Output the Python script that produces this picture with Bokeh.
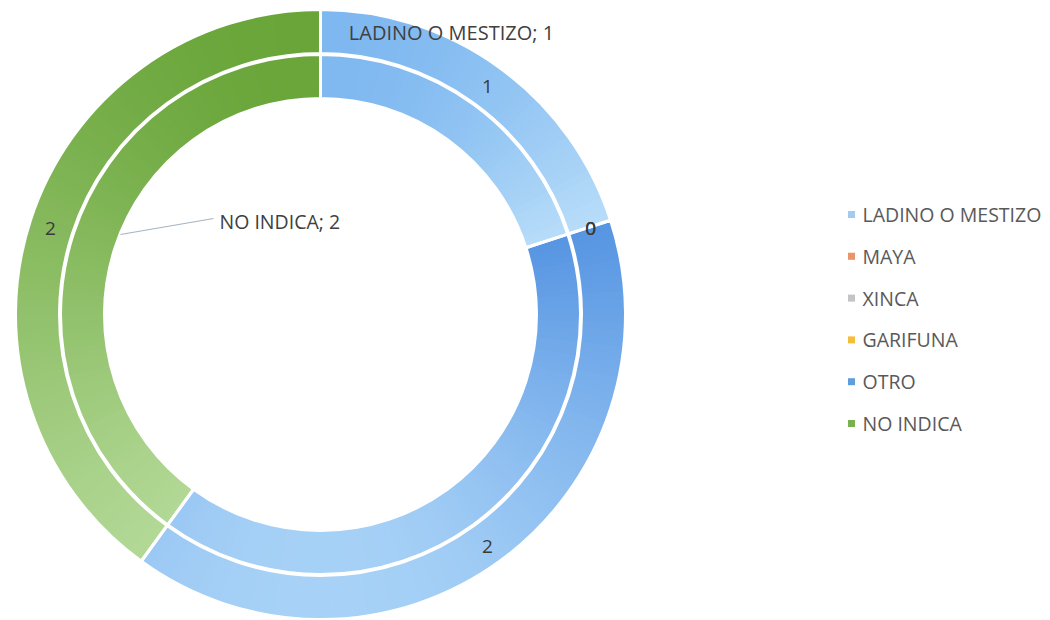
import math
from bokeh.plotting import figure
from bokeh.models import Range1d
from bokeh.embed import file_html
from bokeh.resources import INLINE
from bokeh.core.properties import value

# ---- data ----
categories = ["LADINO O MESTIZO", "MAYA", "XINCA", "GARIFUNA", "OTRO", "NO INDICA"]
inner_values = [1, 0, 0, 0, 2, 2]
outer_values = [1, 0, 0, 0, 2, 2]
legend_colors = ["#a3cbef", "#e8956a", "#c4c4c4", "#f4bd3c", "#5f9ddc", "#78b150"]
grad_top = ["#78b4ef", "#ed7d31", "#a5a5a5", "#ffc000", "#5594e2", "#66a335"]
grad_bot = ["#badef9", "#ed7d31", "#a5a5a5", "#ffc000", "#acd5f8", "#b5da99"]

# ---- geometry (reference pixel space, y flipped) ----
W, H = 1050, 620
def Y(py):
    return H - py

CX, CY = 320, Y(314)
R_HOLE, R_IN_OUT = 216, 260
R_OUT_IN, R_OUT = 261, 305
FONT = value("Open Sans")

p = figure(width=W, height=H, x_range=Range1d(0, W), y_range=Range1d(0, H),
           output_backend="svg", toolbar_location=None, min_border=0)
p.axis.visible = False
p.grid.visible = False
p.outline_line_color = None
p.background_fill_color = "white"


def hex2rgb(h):
    h = h.lstrip("#")
    return tuple(int(h[i:i + 2], 16) for i in (0, 2, 4))


def mix(c1, c2, t):
    a, b = hex2rgb(c1), hex2rgb(c2)
    return "#%02x%02x%02x" % tuple(int(round(a[i] + (b[i] - a[i]) * t)) for i in range(3))


def draw_ring(values, r0, r1):
    total = float(sum(values))
    start = math.pi / 2
    spans = []
    for i, v in enumerate(values):
        span = 2 * math.pi * v / total
        spans.append((start, start - span))
        if v > 0:
            # gradient approximation: vertical top->bottom inside the slice
            samples = [start - span * k / 60 for k in range(61)]
            ys = [r * math.sin(a) for a in samples for r in (r0, r1)]
            ymax, ymin = max(ys), min(ys)
            n = max(4, int(math.degrees(span) / 1.5))
            sa, ea, cols = [], [], []
            for k in range(n):
                a0 = start - span * k / n
                a1 = start - span * (k + 1) / n - 0.004
                am = (a0 + a1) / 2
                ym = (r0 + r1) / 2 * math.sin(am)
                t = (ymax - ym) / (ymax - ymin) if ymax > ymin else 0
                cols.append(mix(grad_top[i], grad_bot[i], t))
                sa.append(a0); ea.append(a1)
            p.annular_wedge(x=[CX] * n, y=[CY] * n, inner_radius=r0, outer_radius=r1,
                            start_angle=sa, end_angle=ea, direction="clock",
                            fill_color=cols, line_color=None)
        start -= span
    # white separators
    s = [a for a, b in spans if a != b]
    e = [b for a, b in spans if a != b]
    p.annular_wedge(x=[CX] * len(s), y=[CY] * len(s), inner_radius=r0, outer_radius=r1,
                    start_angle=s, end_angle=e, direction="clock",
                    fill_alpha=0, line_color="white", line_width=3)
    return spans


inner_spans = draw_ring(inner_values, R_HOLE, R_IN_OUT)
outer_spans = draw_ring(outer_values, R_OUT_IN, R_OUT)

# outer ring value labels at mid-angle of each slice
lab_r = 284
lx, ly, lt = [], [], []
for (a0, a1), v in zip(outer_spans, outer_values):
    am = (a0 + a1) / 2
    lx.append(CX + lab_r * math.cos(am))
    ly.append(CY + lab_r * math.sin(am) - 2)
    lt.append(str(v))
p.text(x=lx, y=ly, text=lt, text_align="center", text_baseline="middle",
       text_font=FONT, text_font_size="19px", text_color="#3a3a3a")

# inner ring labels (category; value), placed as in the reference
ladino_idx = 0
noind_idx = 5
p.text(x=[451], y=[Y(32)], text=["%s; %d" % (categories[ladino_idx], inner_values[ladino_idx])],
       text_align="center", text_baseline="middle",
       text_font=FONT, text_font_size="20px", text_color="#404040")
p.text(x=[219], y=[Y(221)], text=["%s; %d" % (categories[noind_idx], inner_values[noind_idx])],
       text_align="left", text_baseline="middle",
       text_font=FONT, text_font_size="19.5px", text_color="#404040")
p.line(x=[120, 213], y=[Y(234), Y(218)], line_color="#a6b4c0", line_width=1.2)

# legend
leg_y = [Y(214 + 41.8 * i) for i in range(len(categories))]
p.scatter(x=[851] * len(categories), y=leg_y, marker="square", size=7,
          fill_color=legend_colors, line_color=None)
p.text(x=[862] * len(categories), y=leg_y, text=categories, text_align="left",
       text_baseline="middle", text_font=FONT, text_font_size="19.5px",
       text_color="#595959")

open("out.html", "w").write(file_html(p, INLINE))
